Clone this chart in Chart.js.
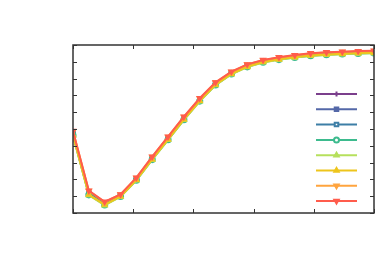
<!DOCTYPE html>
<html>
<head>
<meta charset="utf-8">
<script src="https://cdn.jsdelivr.net/npm/chart.js@4.4.1/dist/chart.umd.min.js"></script>
<style>
  html, body { margin: 0; padding: 0; background: #fff; }
  #wrap { width: 375px; height: 263px; }
</style>
</head>
<body>
<div id="wrap"><canvas id="grafico" width="375" height="263"></canvas></div>
<script>
// --- DATOS ---
const pasos = [0, 1, 2, 3, 4, 5, 6, 7, 8, 9, 10, 11, 12, 13, 14, 15, 16, 17, 18, 19];
const xTicks = [0, 3.8, 7.6, 11.4, 15.2, 19];
const yTicks = [0, 1, 2, 3, 4, 5, 6, 7, 8, 9, 10];

const serieMorada   = [4.74, 1.20, 0.57, 1.04, 2.02, 3.26, 4.45, 5.64, 6.74, 7.70, 8.34, 8.78, 9.04, 9.20, 9.33, 9.43, 9.49, 9.53, 9.57, 9.59];
const serieAzul     = [4.72, 1.18, 0.56, 1.03, 2.01, 3.25, 4.44, 5.63, 6.73, 7.69, 8.33, 8.77, 9.03, 9.19, 9.32, 9.42, 9.48, 9.52, 9.56, 9.58];
const serieAcero    = [4.70, 1.16, 0.54, 1.02, 2.00, 3.24, 4.43, 5.62, 6.72, 7.68, 8.32, 8.76, 9.02, 9.18, 9.31, 9.41, 9.47, 9.51, 9.55, 9.57];
const serieTurquesa = [4.62, 1.08, 0.48, 0.98, 1.95, 3.18, 4.36, 5.55, 6.66, 7.62, 8.27, 8.70, 8.97, 9.13, 9.26, 9.36, 9.42, 9.46, 9.50, 9.52];
const serieVerde    = [4.60, 1.06, 0.46, 0.97, 1.94, 3.17, 4.35, 5.54, 6.65, 7.61, 8.26, 8.69, 8.96, 9.12, 9.25, 9.35, 9.41, 9.45, 9.49, 9.51];
const serieAmarilla = [4.64, 1.10, 0.50, 0.99, 1.97, 3.20, 4.38, 5.57, 6.68, 7.64, 8.29, 8.72, 8.99, 9.15, 9.28, 9.38, 9.44, 9.48, 9.52, 9.54];
const serieNaranja  = [4.86, 1.31, 0.65, 1.10, 2.09, 3.34, 4.53, 5.72, 6.82, 7.77, 8.40, 8.84, 9.10, 9.26, 9.39, 9.50, 9.56, 9.59, 9.63, 9.65];
const serieRoja     = [4.88, 1.33, 0.67, 1.11, 2.10, 3.35, 4.54, 5.73, 6.83, 7.78, 8.41, 8.85, 9.11, 9.27, 9.40, 9.51, 9.57, 9.60, 9.64, 9.66];

const series = [
  { datos: serieMorada,   color: "#7b3f8c", punto: "cross",    relleno: true,  rot: 0 },
  { datos: serieAzul,     color: "#5468a8", punto: "rect",     relleno: true,  rot: 0 },
  { datos: serieAcero,    color: "#3d7ea6", punto: "rect",     relleno: false, rot: 0 },
  { datos: serieTurquesa, color: "#3dbb8e", punto: "circle",   relleno: false, rot: 0 },
  { datos: serieVerde,    color: "#b6e05c", punto: "triangle", relleno: true,  rot: 0 },
  { datos: serieAmarilla, color: "#eec51c", punto: "triangle", relleno: true,  rot: 0 },
  { datos: serieNaranja,  color: "#ffa43e", punto: "triangle", relleno: true,  rot: 180 },
  { datos: serieRoja,     color: "#ff5c4c", punto: "triangle", relleno: true,  rot: 180 },
];

// --- MARCO + TICKS HACIA DENTRO + LEYENDA ---
const marcoPlugin = {
  id: "marco",
  afterDraw(chart) {
    const { ctx, chartArea: a, scales } = chart;
    ctx.save();
    ctx.strokeStyle = "#333";
    ctx.lineWidth = 1;
    ctx.beginPath();
    xTicks.forEach(v => {
      const x = Math.round(scales.x.getPixelForValue(v)) + 0.5;
      ctx.moveTo(x, a.top); ctx.lineTo(x, a.top + 4);
      ctx.moveTo(x, a.bottom); ctx.lineTo(x, a.bottom - 4);
    });
    yTicks.forEach(v => {
      const y = Math.round(scales.y.getPixelForValue(v)) + 0.5;
      ctx.moveTo(a.left, y); ctx.lineTo(a.left + 4, y);
      ctx.moveTo(a.right, y); ctx.lineTo(a.right - 4, y);
    });
    ctx.stroke();
    ctx.lineWidth = 1.5;
    ctx.strokeRect(a.left, a.top, a.right - a.left, a.bottom - a.top);

    // leyenda sin texto
    chart.data.datasets.forEach((ds, i) => {
      const y = a.top + 49 + i * 15.3;
      const x0 = a.right - 58, x1 = a.right - 17;
      ctx.strokeStyle = ds.borderColor;
      ctx.lineWidth = 2;
      ctx.beginPath();
      ctx.moveTo(x0, y); ctx.lineTo(x1, y);
      ctx.stroke();
      ctx.fillStyle = ds.pointBackgroundColor;
      ctx.strokeStyle = ds.borderColor;
      Chart.helpers.drawPoint(ctx, {
        pointStyle: ds.pointStyle, radius: 2.5,
        rotation: ds.pointRotation, borderWidth: ds.pointBorderWidth
      }, (x0 + x1) / 2, y);
    });
    ctx.restore();
  }
};

new Chart(document.getElementById("grafico"), {
  type: "line",
  data: {
    datasets: series.map((s, i) => ({
      data: s.datos.map((v, k) => ({ x: pasos[k], y: v })),
      order: series.length - i,
      borderColor: s.color,
      borderWidth: 2,
      pointStyle: s.punto,
      pointRotation: s.rot,
      pointRadius: 2.8,
      pointBorderWidth: 1.5,
      pointBackgroundColor: s.relleno ? s.color : "#fff",
      pointBorderColor: s.color,
      tension: 0,
      fill: false,
      clip: 0,
    }))
  },
  options: {
    responsive: false,
    animation: false,
    layout: { autoPadding: false, padding: { left: 73, top: 45, right: 1, bottom: 50 } },
    scales: {
      x: { type: "linear", min: 0, max: 19, display: false },
      y: { min: 0, max: 10, display: false },
    },
    plugins: { legend: { display: false }, tooltip: { enabled: false } },
  },
  plugins: [marcoPlugin],
});
</script>
</body>
</html>
